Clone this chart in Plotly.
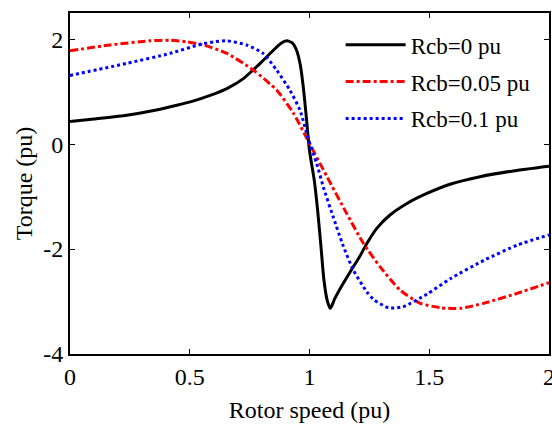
import plotly.graph_objects as go

# Rcb = 0 pu
x_rcb0 = [0, 0.1, 0.237, 0.35, 0.446, 0.52, 0.585, 0.655, 0.724, 0.794, 0.849, 0.88, 0.905,
          0.928, 0.946, 0.962, 0.974, 0.986, 1.0, 1.02, 1.035, 1.048, 1.06, 1.074, 1.087, 1.105,
          1.127, 1.169, 1.211, 1.24, 1.28, 1.336, 1.407, 1.49, 1.59, 1.712, 1.85, 2.0]
y_rcb0 = [0.43, 0.48, 0.55, 0.64, 0.74, 0.83, 0.93, 1.06, 1.25, 1.54, 1.79, 1.92, 1.97,
          1.93, 1.79, 1.50, 1.09, 0.55, -0.12, -0.69, -1.31, -1.96, -2.58, -2.98, -3.13, -2.95,
          -2.76, -2.44, -2.13, -1.89, -1.61, -1.35, -1.13, -0.94, -0.76, -0.62, -0.51, -0.42]

# Rcb = 0.05 pu
x_rcb005 = [0, 0.167, 0.334, 0.42, 0.488, 0.557, 0.655, 0.766, 0.863, 0.933, 0.99,
            1.073, 1.155, 1.225, 1.295, 1.378, 1.46, 1.55, 1.63, 1.73, 1.87, 2.0]
y_rcb005 = [1.78, 1.89, 1.97, 1.98, 1.95, 1.89, 1.73, 1.41, 1.03, 0.59, 0.10,
            -0.62, -1.32, -1.89, -2.34, -2.78, -3.03, -3.12, -3.13, -3.03, -2.84, -2.64]

# Rcb = 0.1 pu
x_rcb01 = [0, 0.237, 0.418, 0.543, 0.6, 0.655, 0.738, 0.806, 0.863, 0.918, 0.96, 0.995,
           1.03, 1.06, 1.1, 1.14, 1.183, 1.24, 1.27, 1.33, 1.39, 1.49, 1.59, 1.73, 1.87, 2.0]
y_rcb01 = [1.31, 1.54, 1.73, 1.90, 1.95, 1.97, 1.89, 1.73, 1.41, 1.03, 0.65, 0.10,
           -0.37, -0.85, -1.40, -1.93, -2.40, -2.82, -2.97, -3.12, -3.10, -2.86, -2.56, -2.21, -1.92, -1.73]

names = ["Rcb=0 pu", "Rcb=0.05 pu", "Rcb=0.1 pu"]
x_ticks = [0, 0.5, 1, 1.5, 2]
x_tick_text = ["0", "0.5", "1", "1.5", "2"]
y_ticks = [-4, -2, 0, 2]
y_tick_text = ["-4", "-2", "0", "2"]

FONT = "Liberation Serif, Times New Roman, serif"

fig = go.Figure()
fig.add_trace(go.Scatter(x=x_rcb0, y=y_rcb0, mode="lines", name=names[0], legendgroup="a",
                         line=dict(color="black", width=3, shape="spline", smoothing=0.6)))
fig.add_trace(go.Scatter(x=x_rcb005, y=y_rcb005, mode="lines", name=names[1], legendgroup="b",
                         line=dict(color="#ff0000", width=3, dash="8px,3px,3px,3px",
                                   shape="spline", smoothing=0.6)))
fig.add_trace(go.Scatter(x=x_rcb01, y=y_rcb01, mode="lines", name=names[2], legendgroup="c",
                         line=dict(color="#0000ff", width=3, dash="3px,3px",
                                   shape="spline", smoothing=0.6)))

axis_common = dict(showgrid=False, zeroline=False, showline=True, linecolor="black", linewidth=2,
                   mirror="ticks", ticks="inside", ticklen=5, tickwidth=1, tickcolor="black",
                   ticklabeloverflow="allow", automargin=False,
                   tickfont=dict(family=FONT, size=24, color="black"))

fig.update_layout(
    width=552, height=424,
    margin=dict(l=70, r=3, t=13, b=70),
    paper_bgcolor="white", plot_bgcolor="white",
    font=dict(family=FONT, color="black"),
    xaxis=dict(range=[0, 2], tickvals=x_ticks, ticktext=x_tick_text,
               title=dict(text="Rotor speed (pu)", font=dict(family=FONT, size=24), standoff=12),
               **axis_common),
    yaxis=dict(range=[-4, 2.5], tickvals=y_ticks, ticktext=y_tick_text,
               title=dict(text="Torque (pu)", font=dict(family=FONT, size=24), standoff=4),
               **axis_common),
    legend=dict(x=0.565, y=0.97, xanchor="left", yanchor="top", bgcolor="rgba(0,0,0,0)",
                font=dict(family=FONT, size=23, color="black"), tracegroupgap=4,
                traceorder="grouped", itemwidth=60),
)

fig.write_html("out.html")
